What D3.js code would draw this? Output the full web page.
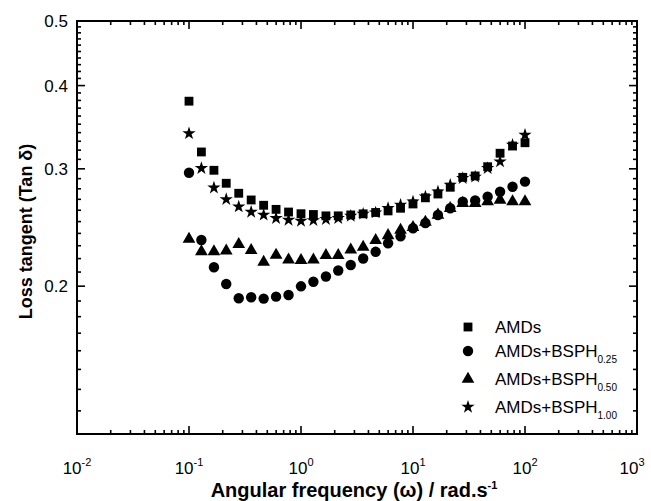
<!DOCTYPE html>
<html>
<head>
<meta charset="utf-8">
<script src="https://cdn.jsdelivr.net/npm/d3@7"></script>
<style>
  body { margin: 0; background: #fff; }
  text { font-family: "Liberation Sans", Arial, sans-serif; fill: #000; }
</style>
</head>
<body>
<div class="container"></div>
<script>
// angular frequency (rad/s) of the sweep
const freq = [0.1, 0.129, 0.167, 0.215, 0.278, 0.359, 0.464, 0.599, 0.774,
  1, 1.29, 1.67, 2.15, 2.78, 3.59, 4.64, 5.99, 7.74,
  10, 12.9, 16.7, 21.5, 27.8, 35.9, 46.4, 59.9, 77.4, 100];

const amds = [0.379, 0.318, 0.2985, 0.2854, 0.2757, 0.2694, 0.2645, 0.2608, 0.2584,
  0.2569, 0.2562, 0.255, 0.255, 0.2558, 0.2568, 0.258, 0.2594, 0.2618,
  0.2657, 0.2714, 0.275, 0.2815, 0.2913, 0.2927, 0.3022, 0.3166, 0.3246, 0.3283];

const bsph025 = [0.296, 0.2346, 0.2135, 0.2015, 0.1918, 0.1925, 0.1916, 0.1929, 0.194,
  0.1999, 0.2031, 0.2068, 0.2111, 0.2152, 0.2201, 0.2252, 0.232, 0.2376,
  0.2443, 0.2488, 0.2558, 0.2618, 0.2678, 0.269, 0.2725, 0.2772, 0.282, 0.287];

const bsph050 = [0.2354, 0.2253, 0.2253, 0.2259, 0.2311, 0.2263, 0.2174, 0.2227, 0.2191,
  0.2187, 0.219, 0.2224, 0.2224, 0.2268, 0.229, 0.2343, 0.2383, 0.2428,
  0.245, 0.2495, 0.2558, 0.2618, 0.2663, 0.2663, 0.2678, 0.2694, 0.2678, 0.2678];

const bsph100 = [0.339, 0.3006, 0.281, 0.27, 0.2632, 0.2584, 0.2558, 0.2529, 0.2514,
  0.2505, 0.251, 0.252, 0.2529, 0.2549, 0.2567, 0.2578, 0.2618, 0.2648,
  0.2678, 0.2725, 0.2772, 0.2837, 0.2904, 0.2918, 0.3006, 0.3075, 0.3258, 0.3372];

const seriesNames = ["AMDs", "AMDs+BSPH", "AMDs+BSPH", "AMDs+BSPH"];
const seriesSubs = ["", "0.25", "0.50", "1.00"];
const seriesSymbols = ["square", "circle", "triangle", "star"];

const yMajor = [0.2, 0.3, 0.4, 0.5];
const xMajorExp = [-2, -1, 0, 1, 2, 3];

const width = 651, height = 501;
const margin = {top: 21, right: 14, bottom: 67, left: 77};

const svg = d3.select(".container").append("svg")
  .attr("width", width)
  .attr("height", height);

const x = d3.scaleLog().domain([0.01, 1000]).range([margin.left, width - margin.right]);
const y = d3.scaleLog().domain([0.12, 0.5]).range([height - margin.bottom, margin.top]);

const x0 = x.range()[0], x1 = x.range()[1];
const y0 = y.range()[0], y1 = y.range()[1];

// tick values
const xMinor = [];
for (let e = -2; e < 3; e++) {
  for (let k = 2; k <= 9; k++) xMinor.push(k * Math.pow(10, e));
}
const yMinor = d3.range(13, 50).map(d => d / 100).filter(d => !yMajor.includes(d));

const axes = svg.append("g").attr("stroke", "#000").attr("stroke-width", 1.6);

// bottom + top ticks (inward)
xMajorExp.forEach(e => {
  const px = x(Math.pow(10, e));
  axes.append("line").attr("x1", px).attr("x2", px).attr("y1", y0).attr("y2", y0 - 8);
  axes.append("line").attr("x1", px).attr("x2", px).attr("y1", y1).attr("y2", y1 + 8);
});
xMinor.forEach(v => {
  const px = x(v);
  axes.append("line").attr("x1", px).attr("x2", px).attr("y1", y0).attr("y2", y0 - 4);
  axes.append("line").attr("x1", px).attr("x2", px).attr("y1", y1).attr("y2", y1 + 4);
});
// left + right ticks (inward)
yMajor.forEach(v => {
  const py = y(v);
  axes.append("line").attr("x1", x0).attr("x2", x0 + 8).attr("y1", py).attr("y2", py);
  axes.append("line").attr("x1", x1).attr("x2", x1 - 8).attr("y1", py).attr("y2", py);
});
yMinor.forEach(v => {
  const py = y(v);
  axes.append("line").attr("x1", x0).attr("x2", x0 + 4).attr("y1", py).attr("y2", py);
  axes.append("line").attr("x1", x1).attr("x2", x1 - 4).attr("y1", py).attr("y2", py);
});

svg.append("rect")
  .attr("x", x0).attr("y", y1)
  .attr("width", x1 - x0).attr("height", y0 - y1)
  .attr("fill", "none").attr("stroke", "#000").attr("stroke-width", 2);

// tick labels
svg.selectAll(".ylab").data(yMajor).enter().append("text")
  .attr("x", x0 - 9)
  .attr("y", d => y(d) + 6)
  .attr("text-anchor", "end")
  .attr("font-size", "17px")
  .text(d => d.toFixed(1));

const xl = svg.selectAll(".xlab").data(xMajorExp).enter().append("text")
  .attr("x", d => x(Math.pow(10, d)) - (d === 3 ? 5 : 0))
  .attr("y", y0 + 40)
  .attr("text-anchor", "middle")
  .attr("font-size", "17px");
xl.append("tspan").text("10");
xl.append("tspan").attr("dy", -8).attr("font-size", "11px").text(d => d);

// axis titles
svg.append("text")
  .attr("transform", `translate(32,${(y0 + y1) / 2 + 4}) rotate(-90)`)
  .attr("text-anchor", "middle")
  .attr("font-size", "18px")
  .attr("font-weight", "bold")
  .text("Loss tangent (Tan \u03B4)");

const xt = svg.append("text")
  .attr("x", (x0 + x1) / 2 - 3)
  .attr("y", height - 4)
  .attr("text-anchor", "middle")
  .attr("font-size", "20px")
  .attr("font-weight", "bold");
xt.append("tspan").text("Angular frequency (\u03C9) / rad.s");
xt.append("tspan").attr("dy", -8).attr("font-size", "11px").text("-1");

// markers
const symbolType = {
  square: d3.symbolSquare,
  circle: d3.symbolCircle,
  triangle: d3.symbolTriangle,
  star: d3.symbolStar
};
const symbolSize = {square: 78, circle: 85, triangle: 70, star: 55};
const sym = name => d3.symbol().type(symbolType[name]).size(symbolSize[name])();

const allSeries = [amds, bsph025, bsph050, bsph100];
const plot = svg.append("g");
// draw order so stars/squares overlap like the reference
[2, 1, 3, 0].forEach(s => {
  plot.selectAll(null).data(allSeries[s]).enter().append("path")
    .attr("d", sym(seriesSymbols[s]))
    .attr("transform", (d, i) => `translate(${x(freq[i])},${y(d)})`)
    .attr("fill", "#000");
});

// legend
const legendY = [327, 351, 379, 407];
const legend = svg.append("g");
seriesNames.forEach((name, i) => {
  legend.append("path")
    .attr("d", sym(seriesSymbols[i]))
    .attr("transform", `translate(468,${legendY[i]})`)
    .attr("fill", "#000");
  const t = legend.append("text")
    .attr("x", 495)
    .attr("y", legendY[i] + 6)
    .attr("font-size", "17px");
  t.append("tspan").text(name);
  if (seriesSubs[i]) {
    t.append("tspan").attr("dy", 6).attr("font-size", "10px").text(seriesSubs[i]);
  }
});
</script>
</body>
</html>
